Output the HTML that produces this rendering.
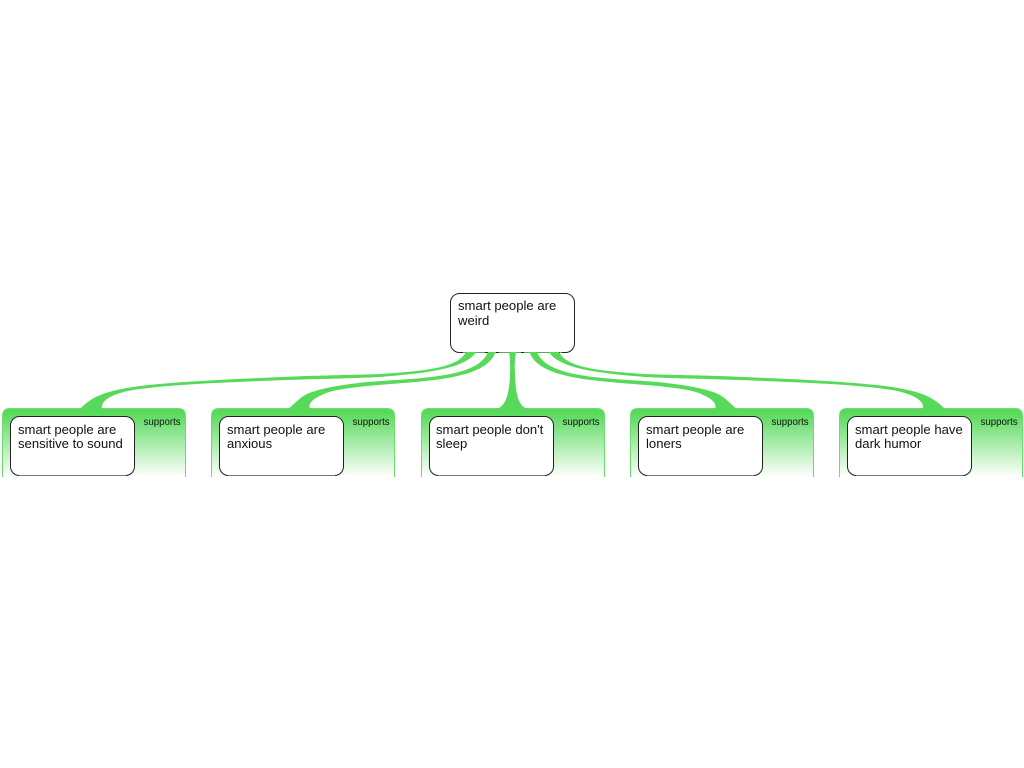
<!DOCTYPE html>
<html><head><meta charset="utf-8"><style>
html,body{margin:0;padding:0;background:#fff;width:1024px;height:768px;overflow:hidden}
svg{display:block}
text{font-family:"Liberation Sans",sans-serif;fill:#111}
.t{font-size:13.100px}.s{font-size:9.700px}
.b{fill:#fff;stroke:#222;stroke-width:1}
.g{fill:#57d95a}
.c{fill:url(#gr);stroke:#6ade6c;stroke-width:1}
</style></head><body>
<svg width="1024" height="768" viewBox="0 0 1024 768" xmlns="http://www.w3.org/2000/svg">
<defs>
<linearGradient id="gr" gradientUnits="userSpaceOnUse" x1="0" y1="412" x2="0" y2="477"><stop offset="0" stop-color="#57d95a"/><stop offset="1" stop-color="#fff"/></linearGradient>
<g id="card">
<path class="c" d="M2.500,477 V416 Q2.500,408.500 10,408.500 H178 Q185.500,408.500 185.500,416 V477"/>
<rect class="b" x="10.500" y="416.500" width="124" height="59" rx="9"/>
<path d="M19,475.500 H126" stroke="#777" stroke-width="1"/>
<text class="s" x="143.500" y="425">supports</text>
</g>
</defs>

<g><use href="#card"/><text class="t" x="18" y="434">smart people are</text><text class="t" x="18" y="448">sensitive to sound</text></g>
<g transform="translate(209,0)"><use href="#card"/><text class="t" x="18" y="434">smart people are</text><text class="t" x="18" y="448">anxious</text></g>
<g transform="translate(419,0)"><use href="#card"/><text class="t" x="17" y="434">smart people don't</text><text class="t" x="17" y="448">sleep</text></g>
<g transform="translate(628,0)"><use href="#card"/><text class="t" x="18" y="434">smart people are</text><text class="t" x="18" y="448">loners</text></g>
<g transform="translate(837,0)"><use href="#card"/><text class="t" x="18" y="434">smart people have</text><text class="t" x="18" y="448">dark humor</text></g>

<rect class="b" x="450.500" y="293.500" width="124" height="59" rx="9"/>
<text class="t" x="458" y="310">smart people are</text>
<text class="t" x="458" y="325">weird</text>

<path d="M463,352.500 H562" stroke="#57d95a" stroke-width="1" stroke-dasharray="22 3 8 3" opacity=".8"/>
<path class="g" d="M80,409 C90,399 100,392 133,387 C160,383 210,380 260,378 C320,375 340,375.500 380,374 C425,371 458,368 466,352 L476,352 C466,368 430,373 380,377 C340,379 320,378.500 260,381 C210,383 165,385 133,390 C116,393 100,399 102,409 Z"/>
<path class="g" d="M288,409 C296,403 300,396 312,392 C330,386 350,384 367,382 C420,378 478,378 488,352 L495.500,352 C486,381 420,381 367,386 C350,388 330,390 322,395 C312,399 308,404 310,409 Z"/>
<path class="g" d="M497,409 C506,405 509,395 510,375 C510.500,365 510,358 509,352 L516,352 C515,358 514.500,365 515,375 C516,395 518,405 527,409 Z"/>
<g transform="translate(1025,0) scale(-1,1)">
<path class="g" d="M80,409 C90,399 100,392 133,387 C160,383 210,380 260,378 C320,375 340,375.500 380,374 C425,371 458,368 466,352 L476,352 C466,368 430,373 380,377 C340,379 320,378.500 260,381 C210,383 165,385 133,390 C116,393 100,399 102,409 Z"/>
<path class="g" d="M288,409 C296,403 300,396 312,392 C330,386 350,384 367,382 C420,378 478,378 488,352 L495.500,352 C486,381 420,381 367,386 C350,388 330,390 322,395 C312,399 308,404 310,409 Z"/>
</g>
</svg>
</body></html>
